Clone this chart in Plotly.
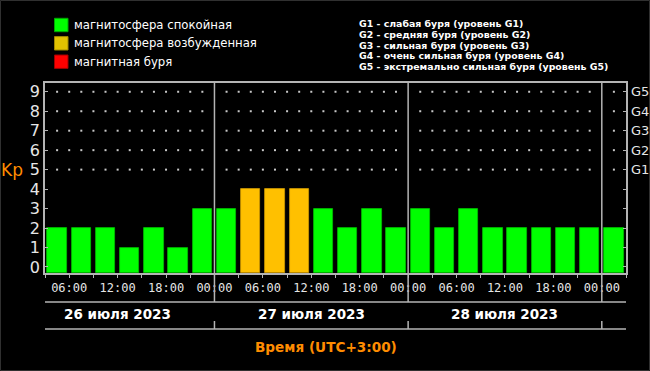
import plotly.graph_objects as go
from datetime import datetime, timedelta

# ---------------- data ----------------
interval_starts = [
    "2023-07-26 03:00", "2023-07-26 06:00", "2023-07-26 09:00", "2023-07-26 12:00",
    "2023-07-26 15:00", "2023-07-26 18:00", "2023-07-26 21:00",
    "2023-07-27 00:00", "2023-07-27 03:00", "2023-07-27 06:00", "2023-07-27 09:00",
    "2023-07-27 12:00", "2023-07-27 15:00", "2023-07-27 18:00", "2023-07-27 21:00",
    "2023-07-28 00:00", "2023-07-28 03:00", "2023-07-28 06:00", "2023-07-28 09:00",
    "2023-07-28 12:00", "2023-07-28 15:00", "2023-07-28 18:00", "2023-07-28 21:00",
    "2023-07-29 00:00",
]
kp_values = [2, 2, 2, 1, 2, 1, 3,
             3, 4, 4, 4, 3, 2, 3, 2,
             3, 2, 3, 2, 2, 2, 2, 2,
             2]
day_labels = ["26 июля 2023", "27 июля 2023", "28 июля 2023"]
day_noons = ["2023-07-26 12:00", "2023-07-27 12:00", "2023-07-28 12:00"]
day_boundaries = ["2023-07-27 00:00", "2023-07-28 00:00", "2023-07-29 00:00"]
x_range = ["2023-07-26 03:00", "2023-07-29 03:00"]
legend_labels = ["магнитосфера спокойная", "магнитосфера возбужденная", "магнитная буря"]
g_levels = [5, 6, 7, 8, 9]
g_ticktext = ["G1", "G2", "G3", "G4", "G5"]
g_descriptions = [
    "G1 - слабая буря (уровень G1)",
    "G2 - средняя буря (уровень G2)",
    "G3 - сильная буря (уровень G3)",
    "G4 - очень сильная буря (уровень G4)",
    "G5 - экстремально сильная буря (уровень G5)",
]
y_ticks = [0, 1, 2, 3, 4, 5, 6, 7, 8, 9]
x_title = "Время (UTC+3:00)"
y_title = "Kp"

# ---------------- style ----------------
W, H = 650, 371
ML, MR, MT, MB = 45, 24, 83, 98
PW, PH = W - ML - MR, H - MT - MB
Y_MIN, Y_MAX = -0.31, 9.45
HOUR_MS = 3600 * 1000
SLOT_MS = 3 * HOUR_MS

GREEN, ORANGE, RED = "#00FF00", "#FFC000", "#FF0000"
GREEN_EDGE, ORANGE_EDGE, RED_EDGE = "#00C000", "#D09A00", "#B00000"
legend_colors = ["#00FF00", "#E2C200", "#FF0000"]
legend_edges = ["#00A800", "#A08800", "#A00000"]
AXIS_GRAY = "#B4B4B4"
TEXT = "#E6E6E6"
ORANGE_TEXT = "#FF8C00"


def px_x(px):
    return (px - ML) / PW


def px_y(py):
    return (H - MB - py) / PH


def level_color(v):
    if v >= 5:
        return RED, RED_EDGE
    if v >= 4:
        return ORANGE, ORANGE_EDGE
    return GREEN, GREEN_EDGE


fills = [level_color(v)[0] for v in kp_values]
edges = [level_color(v)[1] for v in kp_values]

fig = go.Figure()

fig.add_trace(go.Bar(
    x=interval_starts,
    y=[v - Y_MIN for v in kp_values],
    base=Y_MIN,
    offset=0.1 * SLOT_MS,
    width=0.8 * SLOT_MS,
    marker=dict(color=fills, line=dict(color=edges, width=0.8)),
    customdata=kp_values,
    hovertemplate="%{x}<br>Kp = %{customdata}<extra></extra>",
    showlegend=False,
))

# dotted grid at storm levels (every 1.5 h, skipping day boundaries)
t0 = datetime.strptime(x_range[0], "%Y-%m-%d %H:%M")
t1 = datetime.strptime(x_range[1], "%Y-%m-%d %H:%M")
dot_x, dot_y = [], []
for lvl in g_levels:
    t = t0 + timedelta(minutes=90)
    while t < t1:
        if not (t.hour == 0 and t.minute == 0):
            dot_x.append(t.strftime("%Y-%m-%d %H:%M"))
            dot_y.append(lvl)
        t += timedelta(minutes=90)
fig.add_trace(go.Scatter(
    x=dot_x, y=dot_y, mode="markers", yaxis="y2",
    marker=dict(symbol="square", size=2, color="#C8C8C8", line=dict(width=0)),
    hoverinfo="skip", showlegend=False,
))

shapes = []
# day boundary vertical lines
for b in day_boundaries:
    shapes.append(dict(type="line", xref="x", yref="paper", x0=b, x1=b,
                       y0=px_y(302), y1=1, line=dict(color=AXIS_GRAY, width=1.5), layer="above"))
    shapes.append(dict(type="line", xref="x", yref="paper", x0=b, x1=b,
                       y0=px_y(321), y1=px_y(329), line=dict(color=AXIS_GRAY, width=1.5)))
# date band lines
for py in (302, 329):
    shapes.append(dict(type="line", xref="paper", yref="paper", x0=0, x1=1,
                       y0=px_y(py), y1=px_y(py), line=dict(color=AXIS_GRAY, width=1.5)))
# legend squares
leg_y = [25, 43.3, 61.7]
for i, yc in enumerate(leg_y):
    shapes.append(dict(type="rect", xref="paper", yref="paper",
                       x0=px_x(54.5), x1=px_x(68), y0=px_y(yc + 6.7), y1=px_y(yc - 6.7),
                       fillcolor=legend_colors[i], line=dict(color=legend_edges[i], width=1)))
# image frame
shapes.append(dict(type="rect", xref="paper", yref="paper",
                   x0=px_x(0.5), x1=px_x(W - 0.5), y0=px_y(H - 0.5), y1=px_y(0.5),
                   line=dict(color="#303030", width=1)))

annotations = []
for i, yc in enumerate(leg_y):
    annotations.append(dict(xref="paper", yref="paper", x=px_x(72), y=px_y(yc),
                            xanchor="left", yanchor="middle", showarrow=False,
                            text=legend_labels[i],
                            font=dict(family="DejaVu Sans", size=11.7, color="#FFFFFF")))
for i, txt in enumerate(g_descriptions):
    annotations.append(dict(xref="paper", yref="paper", x=px_x(357), y=px_y(23.5 + 10.8 * i),
                            xanchor="left", yanchor="middle", showarrow=False,
                            text="<b>" + txt + "</b>",
                            font=dict(family="DejaVu Sans", size=9.4, color="#FFFFFF")))
for lab, noon in zip(day_labels, day_noons):
    annotations.append(dict(xref="x", yref="paper", x=noon, y=px_y(314),
                            xanchor="center", yanchor="middle", showarrow=False,
                            text="<b>" + lab + "</b>",
                            font=dict(family="DejaVu Sans", size=13.5, color="#FFFFFF")))
annotations.append(dict(xref="paper", yref="paper", x=px_x(326), y=px_y(347),
                        xanchor="center", yanchor="middle", showarrow=False,
                        text="<b>" + x_title + "</b>",
                        font=dict(family="DejaVu Sans", size=13.6, color=ORANGE_TEXT)))
annotations.append(dict(xref="paper", yref="paper", x=px_x(12), y=px_y(170),
                        xanchor="center", yanchor="middle", showarrow=False,
                        text=y_title,
                        font=dict(family="DejaVu Sans", size=17, color=ORANGE_TEXT)))

fig.update_layout(
    width=W, height=H,
    margin=dict(l=ML, r=MR, t=MT, b=MB, autoexpand=False),
    paper_bgcolor="#000000", plot_bgcolor="#000000",
    font=dict(family="DejaVu Sans", color=TEXT),
    showlegend=False,
    bargap=0,
    shapes=shapes,
    annotations=annotations,
    xaxis=dict(
        type="date", range=x_range, showgrid=False, zeroline=False,
        showline=True, linecolor=AXIS_GRAY, linewidth=1.5, mirror=True,
        tick0="2023-07-26 00:00", dtick=6 * HOUR_MS, tickformat="%H:%M",
        ticks="outside", ticklen=3, tickcolor=AXIS_GRAY,
        minor=dict(dtick=SLOT_MS, ticks="outside", ticklen=3, tickcolor=AXIS_GRAY, showgrid=False),
        tickfont=dict(family="DejaVu Sans Mono", size=12, color=TEXT),
        automargin=False, fixedrange=True,
    ),
    yaxis=dict(
        range=[Y_MIN, Y_MAX], tickvals=y_ticks, showgrid=False, zeroline=False,
        showline=True, linecolor=AXIS_GRAY, linewidth=1.5, mirror=True,
        ticks="inside", ticklen=3, tickcolor=AXIS_GRAY,
        tickfont=dict(family="DejaVu Sans", size=16, color=TEXT),
        automargin=False, fixedrange=True,
    ),
    yaxis2=dict(
        overlaying="y", side="right", range=[Y_MIN, Y_MAX],
        tickvals=y_ticks, ticktext=[""] * 5 + g_ticktext,
        showgrid=False, zeroline=False, showline=False,
        ticks="inside", ticklen=3, tickcolor=AXIS_GRAY,
        ticklabelstandoff=4,
        tickfont=dict(family="DejaVu Sans", size=13, color=TEXT),
        automargin=False, fixedrange=True,
    ),
)

fig.write_html(
    "out.html",
    config={"displayModeBar": False},
    post_script="document.body.style.margin='0';document.body.style.padding='0';"
                "document.body.style.background='#000';",
)
